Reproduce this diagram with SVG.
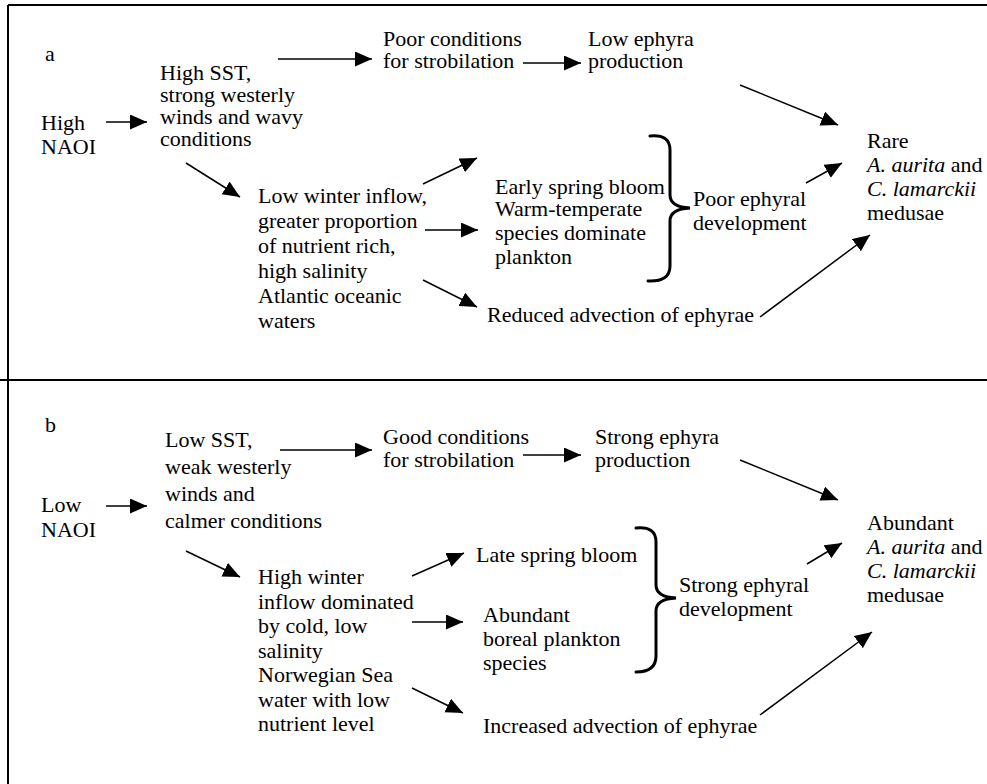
<svg xmlns="http://www.w3.org/2000/svg" width="987" height="784" viewBox="0 0 987 784">
<defs>
<marker id="ah" markerUnits="userSpaceOnUse" markerWidth="18" markerHeight="16" refX="17" refY="7.5" orient="auto">
<path d="M0,0 L17,7.5 L0,15 z" fill="#000"/>
</marker>
<style>
text{font-family:"Liberation Serif","Times New Roman",serif;font-size:22px;fill:#000}
.i{font-style:italic}
.c{stroke:#000;stroke-width:1.5;fill:none;marker-end:url(#ah)}
.br{stroke:#000;stroke-width:3;fill:none;stroke-linecap:round}
.fr{stroke:#000;stroke-width:2;fill:none}
</style>
</defs>
<rect width="987" height="784" fill="#fff"/>
<g id="frame">
<line class="fr" x1="8" y1="5" x2="987" y2="5"/>
<line class="fr" x1="8" y1="5" x2="8" y2="784"/>
<line class="fr" x1="0" y1="380" x2="987" y2="380"/>
</g>
<g id="panel-a">
<g id="label-a"><text x="45" y="61">a</text></g>
<g id="a-naoi"><text x="41" y="130">High</text><text x="41" y="154">NAOI</text></g>
<g id="a-sst"><text x="160" y="80">High SST,</text><text x="160" y="102">strong westerly</text><text x="160" y="124">winds and wavy</text><text x="160" y="146">conditions</text></g>
<g id="a-strob"><text x="383" y="46">Poor conditions</text><text x="383" y="68">for strobilation</text></g>
<g id="a-ephyra"><text x="588" y="46">Low ephyra</text><text x="588" y="68">production</text></g>
<g id="a-inflow"><text x="258" y="203">Low winter inflow,</text><text x="258" y="228">greater proportion</text><text x="258" y="253">of nutrient rich,</text><text x="258" y="278">high salinity</text><text x="258" y="303">Atlantic oceanic</text><text x="258" y="328">waters</text></g>
<g id="a-bloom"><text x="495" y="194">Early spring bloom</text></g>
<g id="a-warm"><text x="495" y="216">Warm-temperate</text><text x="495" y="240">species dominate</text><text x="495" y="264">plankton</text></g>
<g id="a-adv"><text x="487" y="322">Reduced advection of ephyrae</text></g>
<g id="a-brace"><path class="br" d="M650,136 Q670,134 670,150 L670,195 Q670,207 690,208 Q670,209 670,221 L670,266 Q670,282 648,281"/></g>
<g id="a-dev"><text x="693" y="206">Poor ephyral</text><text x="693" y="230">development</text></g>
<g id="a-result"><text x="867" y="148">Rare</text><text x="867" y="172"><tspan class="i">A. aurita</tspan> and</text><text x="867" y="196" class="i">C. lamarckii</text><text x="867" y="220">medusae</text></g>
</g>
<g id="panel-b">
<g id="label-b"><text x="45" y="432">b</text></g>
<g id="b-naoi"><text x="41" y="512">Low</text><text x="41" y="537">NAOI</text></g>
<g id="b-sst"><text x="165" y="447">Low SST,</text><text x="165" y="474">weak westerly</text><text x="165" y="501">winds and</text><text x="165" y="528">calmer conditions</text></g>
<g id="b-strob"><text x="383" y="444">Good conditions</text><text x="383" y="467">for strobilation</text></g>
<g id="b-ephyra"><text x="595" y="444">Strong ephyra</text><text x="595" y="467">production</text></g>
<g id="b-inflow"><text x="258" y="584">High winter</text><text x="258" y="609">inflow dominated</text><text x="258" y="633">by cold,  low</text><text x="258" y="658">salinity</text><text x="258" y="682">Norwegian Sea</text><text x="258" y="707">water with low</text><text x="258" y="731">nutrient level</text></g>
<g id="b-bloom"><text x="476" y="562">Late spring bloom</text></g>
<g id="b-boreal"><text x="483" y="622">Abundant</text><text x="483" y="646">boreal plankton</text><text x="483" y="670">species</text></g>
<g id="b-adv"><text x="483" y="733">Increased advection of ephyrae</text></g>
<g id="b-brace"><path class="br" d="M636,528 Q656,526 656,542 L656,585 Q656,597 676,598 Q656,599 656,611 L656,656 Q656,672 636,672"/></g>
<g id="b-dev"><text x="679" y="592">Strong ephyral</text><text x="679" y="616">development</text></g>
<g id="b-result"><text x="867" y="530">Abundant</text><text x="867" y="554"><tspan class="i">A. aurita</tspan> and</text><text x="867" y="578" class="i">C. lamarckii</text><text x="867" y="602">medusae</text></g>
</g>
<g id="connectors">
<line class="c" x1="106" y1="122" x2="147" y2="122"/>
<line class="c" x1="278" y1="59" x2="372" y2="59"/>
<line class="c" x1="523" y1="63" x2="581" y2="63"/>
<line class="c" x1="740" y1="85" x2="838" y2="125"/>
<line class="c" x1="186" y1="163" x2="240" y2="197"/>
<line class="c" x1="423" y1="184" x2="477" y2="158"/>
<line class="c" x1="425" y1="230" x2="478" y2="230"/>
<line class="c" x1="423" y1="280" x2="477" y2="307"/>
<line class="c" x1="806" y1="183" x2="842" y2="163"/>
<line class="c" x1="760" y1="317" x2="870" y2="235"/>
<line class="c" x1="106" y1="506" x2="147" y2="506"/>
<line class="c" x1="280" y1="450" x2="372" y2="450"/>
<line class="c" x1="523" y1="455" x2="581" y2="455"/>
<line class="c" x1="740" y1="460" x2="838" y2="500"/>
<line class="c" x1="186" y1="551" x2="240" y2="577"/>
<line class="c" x1="412" y1="576" x2="464" y2="553"/>
<line class="c" x1="412" y1="622" x2="463" y2="622"/>
<line class="c" x1="412" y1="688" x2="463" y2="713"/>
<line class="c" x1="807" y1="564" x2="842" y2="543"/>
<line class="c" x1="760" y1="715" x2="872" y2="632"/>
</g>
</svg>
